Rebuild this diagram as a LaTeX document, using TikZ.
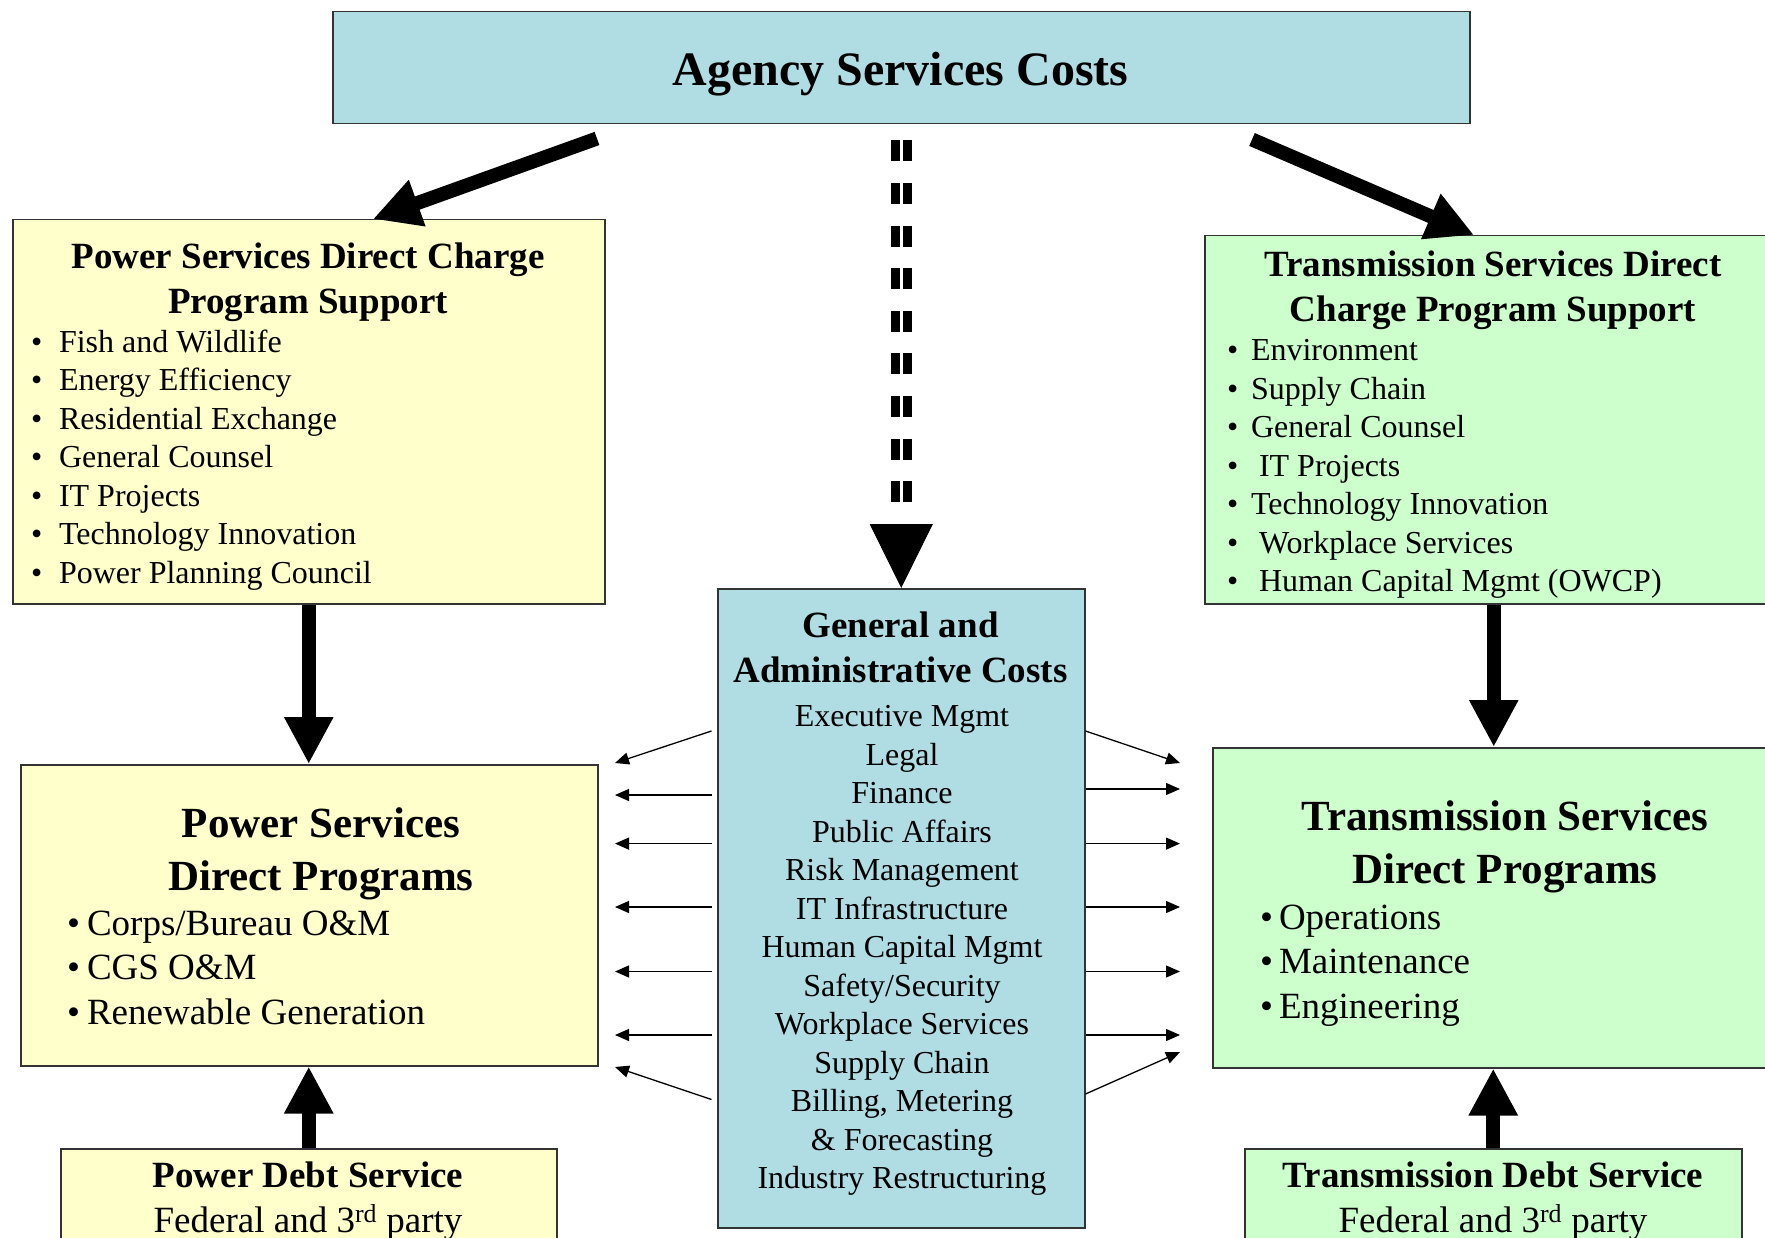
\documentclass[tikz,border=0pt]{standalone}
\usepackage{fontspec}
\setmainfont{Liberation Serif}
\definecolor{agblue}{RGB}{176,221,227}
\definecolor{pwyellow}{RGB}{255,255,204}
\definecolor{trgreen}{RGB}{204,255,204}
\definecolor{edge}{RGB}{51,51,51}
\usetikzlibrary{arrows.meta}
\newcommand{\toptitle}{\fontsize{48}{58}\selectfont\bfseries}
\newcommand{\boxhead}{\fontsize{37}{45}\selectfont\bfseries}
\newcommand{\boxlist}{\fontsize{32}{38.5}\selectfont}
\newcommand{\bighead}{\fontsize{43}{53}\selectfont\bfseries}
\newcommand{\biglist}{\fontsize{37}{44.5}\selectfont}
\newcommand{\bul}[1]{\makebox[#1][l]{\textbullet}}

\begin{document}
\begin{tikzpicture}[x=1pt, y=-1pt,
	box/.style={draw=edge, line width=1.5pt, inner sep=0pt, anchor=north west},
	fat/.style={line width=14pt, -{Triangle[length=47pt, width=46pt]}},
	slim/.style={line width=1.3pt, -{Triangle[length=14pt, width=12pt]}}]
	\useasboundingbox (0,0) rectangle (1765,1238);
	\clip (0,0) rectangle (1765,1238);

	% boxes
	\node[box, fill=agblue, minimum width=1137pt, minimum height=112pt] (agency) at (332,11) {};
	\node[box, fill=pwyellow, minimum width=592pt, minimum height=384pt] (psupport) at (12,219) {};
	\node[box, fill=trgreen, minimum width=578pt, minimum height=368pt] (tsupport) at (1204,235) {};
	\node[box, fill=agblue, minimum width=367pt, minimum height=639pt] (ga) at (717,588) {};
	\node[box, fill=pwyellow, minimum width=577pt, minimum height=301pt] (pdirect) at (20,764) {};
	\node[box, fill=trgreen, minimum width=562pt, minimum height=320pt] (tdirect) at (1212,747) {};
	\node[box, fill=pwyellow, minimum width=496pt, minimum height=150pt] (pdebt) at (60,1148) {};
	\node[box, fill=trgreen, minimum width=497pt, minimum height=150pt] (tdebt) at (1244,1148) {};

	% texts (multi-line nodes sit on the baseline of their last line)
	\node[anchor=base, font=\toptitle] (agencytxt) at (900.5,86) {Agency Services Costs};

	\node[anchor=base, align=center, font=\boxhead] (pshead) at (308,314) {Power Services Direct Charge\\Program Support};
	\node[anchor=base west, align=left, font=\boxlist] (psitems) at (27.5,583) {\bul{28pt}Fish and Wildlife\\
		\bul{28pt}Energy Efficiency\\
		\bul{28pt}Residential Exchange\\
		\bul{28pt}General Counsel\\
		\bul{28pt}IT Projects\\
		\bul{28pt}Technology Innovation\\
		\bul{28pt}Power Planning Council};

	\node[anchor=base, align=center, font=\boxhead] (tshead) at (1493,322) {Transmission Services Direct\\Charge Program Support};
	\node[anchor=base west, align=left, font=\boxlist] (tsitems) at (1223.5,591.6) {\bul{24pt}Environment\\
		\bul{24pt}Supply Chain\\
		\bul{24pt}General Counsel\\
		\bul{24pt}\hspace*{8pt}IT Projects\\
		\bul{24pt}Technology Innovation\\
		\bul{24pt}\hspace*{8pt}Workplace Services\\
		\bul{24pt}\hspace*{8pt}Human Capital Mgmt (OWCP)};

	\node[anchor=base, align=center, font=\boxhead] (gahead) at (900.5,682) {General and\\Administrative Costs};
	\node[anchor=base, align=center, font=\boxlist] (gaitems) at (902,1188.6) {Executive Mgmt\\
		Legal\\
		Finance\\
		Public Affairs\\
		Risk Management\\
		IT Infrastructure\\
		Human Capital Mgmt\\
		Safety/Security\\
		Workplace Services\\
		Supply Chain\\
		Billing, Metering\\
		\& Forecasting\\
		Industry Restructuring};

	\node[anchor=base, align=center, font=\bighead] (pdhead) at (321,890) {Power Services\\Direct Programs};
	\node[anchor=base west, align=left, font=\biglist] (pditems) at (63.5,1024) {\bul{20pt}Corps/Bureau O\&M\\
		\bul{20pt}CGS O\&M\\
		\bul{20pt}Renewable Generation};

	\node[anchor=base, align=center, font=\bighead] (tdhead) at (1505,883) {Transmission Services\\Direct Programs};
	\node[anchor=base west, align=left, font=\biglist] (tditems) at (1256.5,1018) {\bul{19pt}Operations\\
		\bul{19pt}Maintenance\\
		\bul{19pt}Engineering};

	\node[anchor=base, font=\boxhead] (pdbhead) at (308,1187) {Power Debt Service};
	\node[anchor=base, font=\biglist] (pdbtxt) at (308,1232) {Federal and 3\textsuperscript{rd} party};
	\node[anchor=base, font=\boxhead] (tdbhead) at (1493,1187) {Transmission Debt Service};
	\node[anchor=base, font=\biglist] (tdbtxt) at (1493,1232) {Federal and 3\textsuperscript{rd} party};

	% heavy arrows
	\draw[fat] ([xshift=265pt, yshift=-14pt]agency.south west) -- ([xshift=361pt]psupport.north west);
	\draw[fat] ([xshift=920pt, yshift=-15pt]agency.south west) -- ([xshift=270pt]tsupport.north west);
	\draw[fat] (psupport.south) -- (psupport.south |- pdirect.north);
	\draw[fat] (tsupport.south) -- (tsupport.south |- tdirect.north);
	\draw[fat] (pdebt.north) -- (pdebt.north |- pdirect.south);
	\draw[fat] (tdebt.north) -- (tdebt.north |- tdirect.south);

	% dashed double arrow down to G&A
	\draw[line width=9pt, double, double distance=3pt, dash pattern=on 21pt off 21.6pt, dash phase=26.6pt] (agency.south) -- ([yshift=64pt]ga.north);
	\draw[line width=1pt, -{Triangle[length=64pt, width=63pt]}] ([yshift=64pt]ga.north) -- (ga.north);

	% allocation arrows
	\coordinate (pin1) at (615,763);
	\coordinate (pin2) at (615,795);
	\coordinate (pin3) at (615,843.6);
	\coordinate (pin4) at (615,907);
	\coordinate (pin5) at (615,971.5);
	\coordinate (pin6) at (615,1035);
	\coordinate (pin7) at (615,1067);
	\coordinate (tin1) at (1180,763);
	\coordinate (tin2) at (1180,789);
	\coordinate (tin3) at (1180,843.6);
	\coordinate (tin4) at (1180,907);
	\coordinate (tin5) at (1180,971.5);
	\coordinate (tin6) at (1180,1035);
	\coordinate (tin7) at (1180,1052);
	\draw[slim] ([xshift=-5.5pt]ga.west |- 0,731) -- (pin1);
	\draw[slim] ([xshift=-5.5pt]ga.west |- 0,795) -- (pin2);
	\draw[slim] ([xshift=-5.5pt]ga.west |- 0,843.6) -- (pin3);
	\draw[slim] ([xshift=-5.5pt]ga.west |- 0,907) -- (pin4);
	\draw[slim] ([xshift=-5.5pt]ga.west |- 0,971.5) -- (pin5);
	\draw[slim] ([xshift=-5.5pt]ga.west |- 0,1035) -- (pin6);
	\draw[slim] ([xshift=-5.5pt]ga.west |- 0,1099.5) -- (pin7);
	\draw[slim] (ga.east |- 0,731) -- (tin1);
	\draw[slim] (ga.east |- 0,789) -- (tin2);
	\draw[slim] (ga.east |- 0,843.6) -- (tin3);
	\draw[slim] (ga.east |- 0,907) -- (tin4);
	\draw[slim] (ga.east |- 0,971.5) -- (tin5);
	\draw[slim] (ga.east |- 0,1035) -- (tin6);
	\draw[slim] (ga.east |- 0,1094) -- (tin7);
\end{tikzpicture}
\end{document}
